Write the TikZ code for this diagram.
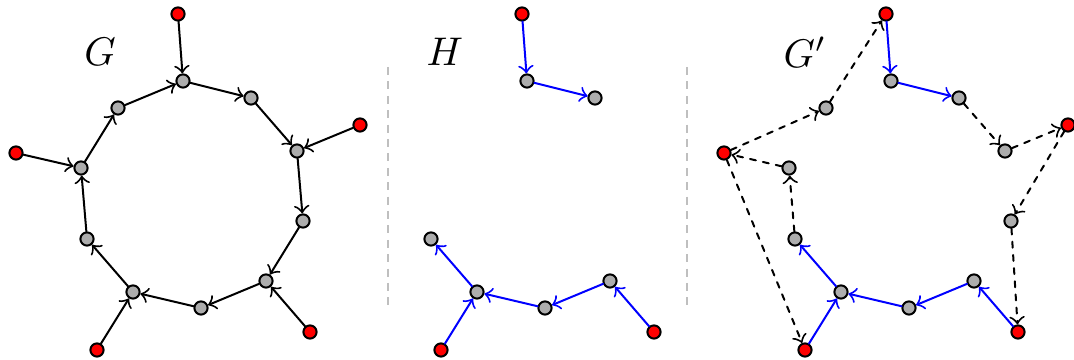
\documentclass[tikz,border=0pt]{standalone}
\begin{document}
\begin{tikzpicture}[x=0.25pt,y=-0.25pt,line join=round,line cap=round]
	\tikzset{vtx/.style={circle,draw,fill=black!32,line width=0.5pt,inner sep=0pt,minimum size=3.3pt},
		term/.style={vtx,fill=red},
		arc/.style={->,line width=0.5pt},
		kept/.style={arc,blue},
		added/.style={arc,dash pattern=on 1.5pt off 1.8pt},
		sep/.style={black!25,line cap=butt,dash pattern=on 2pt off 1.6pt,line width=0.5pt}}
	\useasboundingbox (0,0) rectangle (1074,360);
	% vertices of G and G'
	\foreach \p/\dx in {a/0,c/708}{
		\begin{scope}[shift={(\dx,0)}]
			\foreach \n/\x/\y in {1/183/81,2/251/98,3/297/151,4/303/221,5/266/281,6/201/308,7/133/292,8/87/239,9/81/168,10/118/108}
			\node[vtx] (\p\n) at (\x,\y) {};
			\foreach \n/\x/\y in {1/178/14,2/360/125,3/310/332,4/97/350,5/16/153}
			\node[term] (\p r\n) at (\x,\y) {};
		\end{scope}
	}
	% vertices of H
	\begin{scope}[shift={(344,0)}]
		\foreach \n/\x/\y in {1/183/81,2/251/98,5/266/281,6/201/308,7/133/292,8/87/239}
		\node[vtx] (b\n) at (\x,\y) {};
		\foreach \n/\x/\y in {1/178/14,3/310/332,4/97/350}
		\node[term] (br\n) at (\x,\y) {};
	\end{scope}
	\node (lG) at (100,52) {$G$};
	\node (lH) at (445,52) {$H$};
	\node (lGp) at (805,52) {$G'$};
	\draw[sep] (388,67)--(388,307);
	\draw[sep] (687,67)--(687,307);
	% G
	\foreach \i/\j in {9/10,10/1,1/2,2/3,3/4,4/5,5/6,6/7,7/8,8/9}
	\draw[arc] (a\i)--(a\j);
	\foreach \i/\j in {1/1,2/3,3/5,4/7,5/9}
	\draw[arc] (ar\i)--(a\j);
	% H and G'
	\foreach \p in {b,c}{
		\draw[kept] (\p r1)--(\p1);
		\draw[kept] (\p1)--(\p2);
		\draw[kept] (\p r3)--(\p5);
		\draw[kept] (\p5)--(\p6);
		\draw[kept] (\p6)--(\p7);
		\draw[kept] (\p7)--(\p8);
		\draw[kept] (\p r4)--(\p7);
	}
	\draw[added] (cr5)--(c10);
	\draw[added] (c10)--(cr1);
	\draw[added] (c2)--(c3);
	\draw[added] (c3)--(cr2);
	\draw[added] (cr2)--(c4);
	\draw[added] (c4)--(cr3);
	\draw[added] (c8)--(c9);
	\draw[added] (c9)--(cr5);
	\draw[added] (cr5)--(cr4);
\end{tikzpicture}
\end{document}
